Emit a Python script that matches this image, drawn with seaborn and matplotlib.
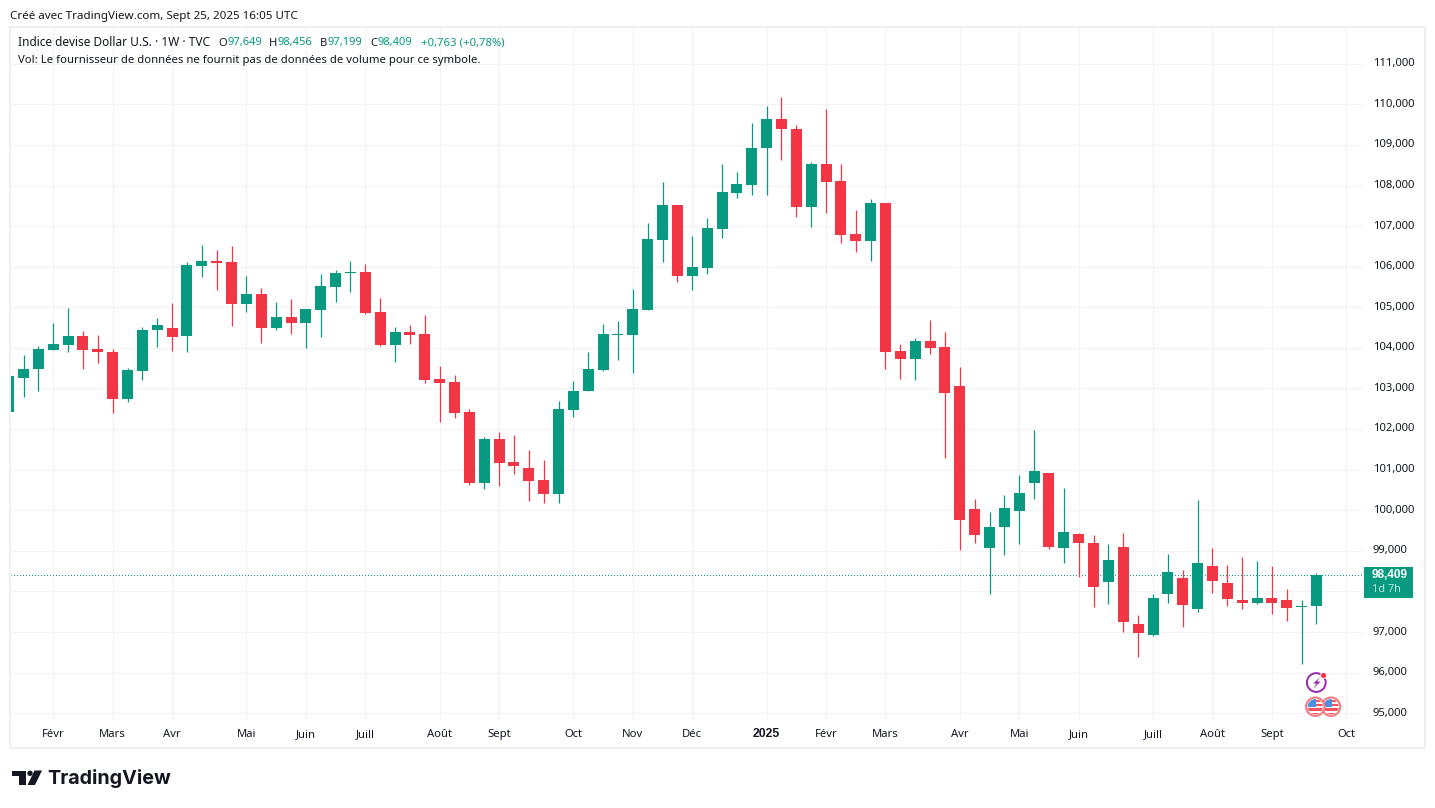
import matplotlib
matplotlib.use("Agg")
import matplotlib.pyplot as plt
import numpy as np
import pandas as pd
import seaborn as sns
from matplotlib.patches import Circle, Polygon, Rectangle
from matplotlib.transforms import Affine2D, ScaledTranslation

# Weekly DXY candles, oldest first
opens = [102.43, 103.25, 103.47, 103.96, 104.08, 104.30, 103.98, 103.90, 102.75, 103.44,
         104.43, 104.49, 104.30, 106.02, 106.14, 106.11, 105.07, 105.33, 104.50, 104.76,
         104.61, 104.93, 105.50, 105.84, 105.86, 104.88, 104.07, 104.39, 104.34, 103.23,
         103.16, 102.42, 100.68, 101.75, 101.19, 101.04, 100.75, 100.41, 102.48, 102.93,
         103.46, 104.33, 104.33, 104.94, 106.66, 107.52, 105.78, 105.98, 106.93, 107.82,
         108.01, 108.92, 109.65, 109.40, 107.47, 108.52, 108.10, 106.80, 106.63, 107.58,
         103.92, 103.73, 104.16, 104.01, 103.07, 100.02, 99.07, 99.59, 99.98, 100.67,
         100.91, 99.07, 99.41, 99.19, 98.24, 99.09, 97.20, 96.93, 97.93, 98.34,
         97.57, 98.64, 98.22, 97.78, 97.71, 97.83, 97.78, 97.62, 97.649]
highs = [103.31, 103.83, 104.05, 104.61, 104.98, 104.42, 104.32, 103.98, 103.51, 104.52,
         104.74, 105.11, 106.11, 106.53, 106.41, 106.51, 105.77, 105.48, 105.13, 105.20,
         104.95, 105.81, 105.93, 106.13, 106.06, 105.22, 104.51, 104.56, 104.80, 103.55,
         103.33, 102.49, 101.80, 101.93, 101.85, 101.48, 101.24, 102.69, 103.18, 103.90,
         104.59, 104.66, 105.45, 107.07, 108.08, 107.52, 106.75, 107.20, 108.54, 108.33,
         109.55, 109.97, 110.19, 109.48, 108.57, 109.89, 108.54, 107.39, 107.66, 107.58,
         104.09, 104.24, 104.68, 104.40, 103.54, 100.27, 99.95, 100.37, 100.86, 101.97,
         100.91, 100.54, 99.43, 99.39, 99.16, 99.43, 97.42, 97.95, 98.93, 98.52,
         100.26, 99.08, 98.66, 98.84, 98.74, 98.64, 98.07, 97.80, 98.456]
lows = [102.43, 102.80, 102.93, 103.96, 103.91, 103.47, 103.64, 102.39, 102.66, 103.20,
        104.03, 103.93, 103.91, 105.75, 105.43, 104.55, 104.89, 104.11, 104.43, 104.35,
        104.00, 104.27, 105.13, 105.38, 104.84, 104.05, 103.66, 104.10, 103.14, 102.18,
        102.28, 100.63, 100.53, 100.61, 100.90, 100.24, 100.19, 100.19, 102.30, 102.93,
        103.43, 103.70, 103.39, 104.94, 106.12, 105.63, 105.43, 105.83, 106.71, 107.70,
        107.76, 107.76, 108.62, 107.22, 106.98, 107.32, 106.58, 106.36, 106.14, 103.48,
        103.24, 103.21, 103.85, 101.29, 99.02, 99.20, 97.94, 98.90, 99.17, 100.28,
        99.05, 98.70, 98.36, 97.62, 97.70, 97.01, 96.39, 96.90, 97.71, 97.12,
        97.49, 97.96, 97.64, 97.57, 97.69, 97.44, 97.27, 96.21, 97.199]
closes = [103.31, 103.48, 103.98, 104.10, 104.30, 103.96, 103.89, 102.75, 103.46, 104.44,
          104.57, 104.28, 106.04, 106.14, 106.10, 105.07, 105.33, 104.50, 104.76, 104.62,
          104.95, 105.52, 105.84, 105.86, 104.86, 104.07, 104.39, 104.32, 103.21, 103.14,
          102.40, 100.68, 101.75, 101.17, 101.10, 100.73, 100.41, 102.49, 102.93, 103.48,
          104.34, 104.35, 104.96, 106.68, 107.52, 105.78, 105.99, 106.95, 107.84, 108.03,
          108.93, 109.65, 109.39, 107.47, 108.52, 108.08, 106.78, 106.63, 107.58, 103.90,
          103.73, 104.16, 103.99, 102.89, 99.76, 99.39, 99.58, 100.05, 100.42, 100.98,
          99.10, 99.46, 99.20, 98.11, 98.77, 97.25, 96.98, 97.85, 98.47, 97.66,
          98.69, 98.25, 97.81, 97.71, 97.85, 97.71, 97.59, 97.64, 98.409]

price_ticks = list(range(95, 112))
# the 98,000 label sits under the last-price tag, so it stays blank
price_labels = ["" if p == 98 else f"{p},000" for p in price_ticks]
month_positions = [3, 7, 11, 16, 20, 24, 29, 33, 38, 42, 46, 51, 55, 59, 64, 68, 72, 77, 81, 85, 90]
month_labels = ["Févr", "Mars", "Avr", "Mai", "Juin", "Juill", "Août", "Sept", "Oct", "Nov", "Déc",
                "2025", "Févr", "Mars", "Avr", "Mai", "Juin", "Juill", "Août", "Sept", "Oct"]
last_price = 98.409
last_price_text = "98,409"
countdown_text = "1d 7h"
credit_text = "Créé avec TradingView.com, Sept 25, 2025 16:05 UTC"
symbol_text = "Indice devise Dollar U.S. · 1W · TVC"
volume_text = "Vol: Le fournisseur de données ne fournit pas de données de volume pour ce symbole."
ohlc_items = [("O", "97,649"), ("H", "98,456"), ("B", "97,199"), ("C", "98,409")]
change_text = "+0,763 (+0,78%)"

UP = "#089981"
DOWN = "#F23645"
INK = "#131722"
GRID = "#F3F3F3"
W, H = 1435, 808

sns.set_theme(style="white", rc={"axes.linewidth": 0})
plt.rcParams["font.family"] = ["Noto Sans", "DejaVu Sans"]
plt.rcParams["text.color"] = INK

fig = plt.figure(figsize=(W / 100, H / 100), dpi=100, facecolor="white")
# pixel coordinates, origin top-left, for the page furniture around the chart
px = Affine2D().scale(1 / W, -1 / H).translate(0, 1) + fig.transFigure

PANE_L, PANE_R, PANE_T, PANE_B = 10.5, 1363.0, 28.0, 720.0
ax = fig.add_axes([PANE_L / W, 1 - PANE_B / H, (PANE_R - PANE_L) / W, (PANE_B - PANE_T) / H])

candles = pd.DataFrame({"week": np.arange(len(opens)), "open": opens, "high": highs,
                        "low": lows, "close": closes})
candles["direction"] = np.where(candles["close"] >= candles["open"], "up", "down")
candles["base"] = candles[["open", "close"]].min(axis=1)
candles["body"] = (candles["close"] - candles["open"]).abs()
palette = {"up": UP, "down": DOWN}

wicks = candles.melt(id_vars=["week", "direction"], value_vars=["low", "high"], value_name="price")
sns.lineplot(data=wicks, x="week", y="price", units="week", estimator=None, hue="direction",
             palette=palette, legend=False, linewidth=0.9, ax=ax, solid_capstyle="butt",
             sort=False, zorder=3)

for direction, part in candles.groupby("direction"):
    sns.barplot(data=part, x="week", y="body", bottom=part["base"].to_numpy(), native_scale=True,
                color=palette[direction], saturation=1, width=0.74, linewidth=0,
                errorbar=None, ax=ax, zorder=4)

PITCH, FIRST_X = 14.862, 8.64
ax.set_xlim((PANE_L - FIRST_X) / PITCH, (PANE_R - FIRST_X) / PITCH)
Y95, PER_UNIT = 713.3, 40.6
ax.set_ylim(95 - (PANE_B - Y95) / PER_UNIT, 95 + (Y95 - PANE_T) / PER_UNIT)

ax.set_xticks(month_positions, month_labels)
ax.set_yticks(price_ticks, price_labels)
ax.yaxis.tick_right()
ax.set_xlabel("")
ax.set_ylabel("")
ax.grid(True, color=GRID, linewidth=0.9)
ax.set_axisbelow(True)
ax.tick_params(axis="x", length=0, pad=12.4, labelsize=8.1, colors=INK)
ax.tick_params(axis="y", length=0, pad=7.0, labelsize=8.1, colors=INK)
nudge_up = ScaledTranslation(0, 1.6 / 100, fig.dpi_scale_trans)
for label in ax.get_yticklabels():
    label.set_transform(label.get_transform() + nudge_up)
for label in ax.get_xticklabels():
    label.set_verticalalignment("baseline")
year_label = ax.get_xticklabels()[month_labels.index("2025")]
year_label.set_family("Liberation Sans")
year_label.set_fontweight("bold")
year_label.set_fontsize(8.8)
for spine in ax.spines.values():
    spine.set_visible(False)

# last-price marker across the pane
ax.axhline(last_price, color=UP, linewidth=0.72, linestyle=(0.5, (1, 2)), zorder=2)

# outer chart frame
fig.add_artist(Rectangle((10, 27), 1415, 721, transform=px, fill=False,
                         edgecolor="#F0F0F2", linewidth=1.5))

# last-price tag on the price scale
fig.add_artist(Rectangle((1364, 567), 49, 31, transform=px, facecolor=UP, edgecolor="none"))
fig.text(1372 / W, 1 - 574.5 / H, last_price_text, color="white", fontsize=8.5, fontweight="bold",
         family="Liberation Sans", ha="left", va="center")
fig.text(1372 / W, 1 - 589.5 / H, countdown_text, color="#BFE5DF", fontsize=7.9,
         ha="left", va="center")

# header lines
fig.text(10 / W, 1 - 16.5 / H, credit_text, fontsize=8.35, ha="left", va="center")
fig.text(18 / W, 1 - 43 / H, symbol_text, fontsize=8.55, ha="left", va="center")
fig.text(18 / W, 1 - 60 / H, volume_text, fontsize=8.15, ha="left", va="center")
for (name, value), x_name, x_value in zip(ohlc_items, [218, 269, 320, 370], [227, 278, 327, 378]):
    fig.text(x_name / W, 1 - 43 / H, name, fontsize=8.05, ha="left", va="center")
    fig.text(x_value / W, 1 - 43 / H, value, fontsize=8.05, color=UP, ha="left", va="center")
fig.text(421 / W, 1 - 43 / H, change_text, fontsize=8.15, color=UP, ha="left", va="center")

# brand mark and word mark
for shape in (Polygon([(12, 770.5), (25.5, 770.5), (25.5, 785), (18.5, 785), (18.5, 776), (12, 776)], closed=True),
              Circle((30, 773.3), 2.7),
              Polygon([(34.5, 770.5), (42, 770.5), (35, 785), (27.5, 785)], closed=True)):
    shape.set(transform=px, facecolor="#131722", edgecolor="none")
    fig.add_artist(shape)
fig.text(47 / W, 1 - 778 / H, "TradingView", fontsize=14.2, fontweight="bold", family="Inter",
         color="#131722", ha="left", va="center")

# event badges below the last candles
fig.add_artist(Circle((1316.3, 682.5), 9.4, transform=px, fill=False, edgecolor="#9C27B0", linewidth=1.4))
fig.add_artist(Polygon([(1320.5, 677), (1313, 683.5), (1316.5, 683.5), (1313.5, 688.5), (1320.5, 681.5), (1317, 681.5)],
                       closed=True, transform=px, facecolor="#9C27B0", edgecolor="none"))
fig.add_artist(Circle((1323.5, 675.5), 3.0, transform=px, facecolor="#F23645", edgecolor="white", linewidth=0.6))
for cx in (1331, 1315.3):
    cy = 706.7
    disc = Circle((cx, cy), 9.2, transform=px, facecolor="white", edgecolor="#F77C80", linewidth=1.5)
    fig.add_artist(disc)
    window = Circle((cx, cy), 7.6, transform=px)
    parts = [Rectangle((cx + 0.5, cy - 7), 8, 2.3, facecolor="#F7525F"),
             Rectangle((cx + 0.5, cy - 2.6), 8, 2.3, facecolor="#F7525F"),
             Rectangle((cx - 8, cy + 1.4), 16, 2.8, facecolor="#F7525F"),
             Rectangle((cx - 8, cy + 6), 16, 2.8, facecolor="#F7525F"),
             Rectangle((cx - 8, cy - 8), 8.8, 8.6, facecolor="#4A90E2")]
    for part in parts:
        part.set(transform=px, edgecolor="none", clip_path=window)
        fig.add_artist(part)

fig.savefig("out.png", dpi=100, facecolor="white")
